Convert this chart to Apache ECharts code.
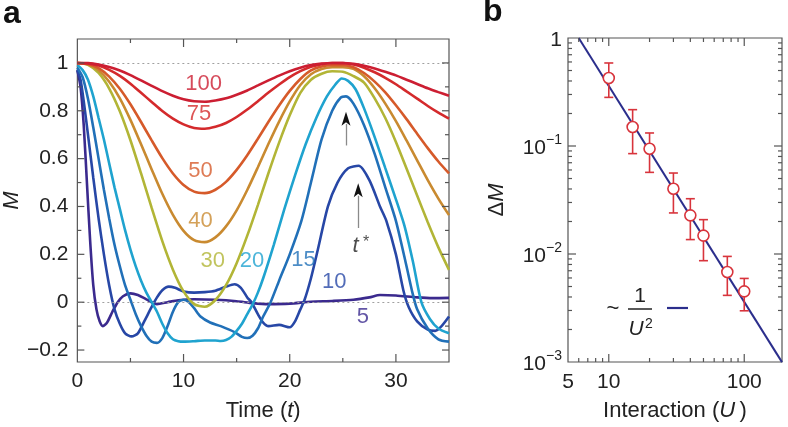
<!DOCTYPE html>
<html><head><meta charset="utf-8">
<script src="https://cdn.jsdelivr.net/npm/echarts@6/dist/echarts.min.js"></script>
<style>html,body{margin:0;padding:0;background:#fff}#c{width:788px;height:427px}</style>
</head><body><div id="c"></div><script>
const FONT = 'Liberation Sans, Arial, Helvetica, sans-serif';
const INK = '#222';
const FRAME = '#555';

// ---------- panel a : magnetization M(t) ----------
const tHigh = [0,1,2,3,4,5,6,7,8,9,10,11,12,13,14,15,16,17,18,19,20,21,22,23,24,25,26,27,28,29,30,31,32,33,34,35];
const m100 = [1.000,0.999,0.993,0.983,0.968,0.949,0.927,0.904,0.882,0.863,0.848,0.840,0.838,0.843,0.852,0.867,0.885,0.906,0.927,0.947,0.965,0.980,0.991,0.997,1.000,1.000,0.996,0.988,0.977,0.963,0.948,0.930,0.912,0.894,0.878,0.863];
const m75 = [1.000,0.998,0.989,0.971,0.946,0.913,0.875,0.837,0.799,0.767,0.743,0.728,0.725,0.733,0.749,0.774,0.805,0.840,0.876,0.910,0.941,0.966,0.984,0.995,1.000,0.999,0.993,0.980,0.961,0.938,0.911,0.881,0.851,0.820,0.792,0.767];
const m50 = [1.000,0.996,0.978,0.943,0.892,0.827,0.753,0.676,0.602,0.538,0.490,0.462,0.456,0.470,0.503,0.553,0.614,0.683,0.754,0.822,0.883,0.933,0.969,0.985,0.990,0.990,0.982,0.958,0.922,0.877,0.823,0.765,0.704,0.644,0.588,0.538];
const m40 = [1.000,0.994,0.969,0.921,0.852,0.762,0.660,0.555,0.453,0.365,0.298,0.259,0.251,0.271,0.317,0.384,0.469,0.564,0.662,0.755,0.839,0.908,0.953,0.975,0.982,0.982,0.975,0.944,0.894,0.830,0.757,0.676,0.593,0.510,0.433,0.364];
const m30 = [1.000,0.992,0.958,0.893,0.798,0.677,0.538,0.394,0.255,0.136,0.045,-0.008,-0.019,0.009,0.071,0.163,0.278,0.406,0.540,0.667,0.781,0.875,0.930,0.955,0.965,0.963,0.945,0.918,0.852,0.770,0.670,0.559,0.446,0.334,0.229,0.135];

const t20 = [0,0.5,1,1.5,2,2.5,3,3.5,4,4.5,5,5.5,6,6.5,7,7.5,8,8.5,9,9.5,10,11,12,13,13.5,14,14.5,15,15.5,16,16.5,17,17.5,18.5,19.5,20.5,21.5,22.5,23.5,24.3,24.9,25.5,26.2,27,28,29,30,30.8,31.6,32.4,33.2,34,35];
const m20 = [0.99,0.97,0.93,0.86,0.77,0.68,0.58,0.48,0.39,0.30,0.22,0.15,0.09,0.04,0.0,-0.04,-0.09,-0.13,-0.155,-0.163,-0.165,-0.163,-0.16,-0.16,-0.162,-0.158,-0.145,-0.12,-0.09,-0.05,-0.01,0.04,0.10,0.24,0.39,0.53,0.66,0.77,0.86,0.91,0.935,0.925,0.89,0.81,0.69,0.56,0.43,0.32,0.17,0.0,-0.07,-0.11,-0.13];

const t15 = [0,0.5,1,1.5,2,2.5,3,3.5,4,4.5,5,5.5,6,6.5,7,7.5,8,8.5,9,9.5,10,10.5,11,11.6,12.5,13.5,14.8,15.5,16,16.5,17,17.5,18.2,19,20,21.1,22,23,24,24.8,25.3,26,27,28,29,30,31,31.5,32,33,34,35];
const m15 = [0.98,0.94,0.85,0.73,0.60,0.47,0.35,0.24,0.15,0.07,0.01,-0.05,-0.10,-0.14,-0.165,-0.17,-0.15,-0.10,-0.04,0.0,0.01,0.0,-0.025,-0.06,-0.085,-0.10,-0.125,-0.145,-0.15,-0.14,-0.11,-0.06,0.0,0.09,0.20,0.34,0.50,0.68,0.80,0.855,0.86,0.83,0.74,0.62,0.48,0.34,0.15,0.05,-0.03,-0.11,-0.155,-0.165];

const t10 = [0,0.3,0.6,1,1.5,2,2.5,3,3.5,4,4.5,5.1,5.7,6.3,7,7.5,8,8.6,9.2,10,11,12,13,14,14.8,15.4,16,16.4,17,17.5,18,19,20,20.5,21,21.4,22,22.65,23.6,24.5,25.5,26.5,27.5,28.5,29.1,30,30.7,31.2,32,33,33.7,34.3,35];
const m10 = [0.97,0.93,0.84,0.70,0.52,0.35,0.20,0.07,-0.03,-0.09,-0.13,-0.143,-0.13,-0.08,-0.02,0.02,0.05,0.065,0.06,0.045,0.04,0.042,0.048,0.065,0.075,0.06,0.02,0.0,-0.05,-0.085,-0.10,-0.095,-0.105,-0.08,-0.03,0.01,0.10,0.22,0.40,0.50,0.56,0.57,0.51,0.40,0.34,0.20,0.05,-0.02,-0.08,-0.115,-0.12,-0.10,-0.06];

const t5 = [0,0.3,0.6,0.9,1.2,1.5,1.8,2.1,2.4,2.8,3.3,3.8,4.3,5,5.7,6.5,7.5,8.5,9.5,11,13,15,16.5,18,20,22,24,26,27.5,28.5,30,32,33.5,35];
const m5 = [0.97,0.90,0.74,0.50,0.26,0.07,-0.03,-0.08,-0.10,-0.085,-0.04,0.0,0.025,0.037,0.03,0.012,-0.008,0.0,0.008,0.012,0.01,0.004,-0.004,-0.008,-0.006,0.002,0.005,0.01,0.02,0.03,0.028,0.02,0.017,0.018];

// revival times t* marked by arrows (curves U = 15 and U = 10)
const tStar = [25.3, 26.45];

// ---------- panel b : revival deficit vs interaction ----------
const bU  = [10, 15, 20, 30, 40, 50, 75, 100];
const bDM = [0.426, 0.150, 0.0944, 0.0402, 0.0228, 0.0148, 0.00681, 0.00451];
const bLo = [0.282, 0.085, 0.057, 0.024, 0.0136, 0.00867, 0.00414, 0.00298];
const bHi = [0.587, 0.217, 0.132, 0.0562, 0.0325, 0.0208, 0.0095, 0.00594];
const fitU  = [6, 190];
const fitDM = [1, 0.000997];

// tick values
const xTicksA = [5,10,15,20,25,30];
const yTicksA = [-0.2,-0.1,0,0.1,0.2,0.3,0.4,0.5,0.6,0.7,0.8,0.9,1.0];
const xTicksB = [6,7,8,9,10,20,30,40,50,60,70,80,90,100];
const yTicksB = [0.002,0.003,0.004,0.005,0.006,0.007,0.008,0.009,0.01,0.02,0.03,0.04,0.05,0.06,0.07,0.08,0.09,0.1,0.2,0.3,0.4,0.5,0.6,0.7,0.8,0.9];

const curves = [
  {name:'5',   t:t5,    m:m5,   color:'#3b2a8e', lab:[26.9,-0.062]},
  {name:'10',  t:t10,   m:m10,  color:'#2747a6', lab:[24.2,0.085]},
  {name:'15',  t:t15,   m:m15,  color:'#2170b8', lab:[21.3,0.176]},
  {name:'20',  t:t20,   m:m20,  color:'#1fa3cf', lab:[16.45,0.172]},
  {name:'30',  t:tHigh, m:m30,  color:'#b2b536', lab:[12.75,0.172]},
  {name:'40',  t:tHigh, m:m40,  color:'#c98a30', lab:[11.6,0.339]},
  {name:'50',  t:tHigh, m:m50,  color:'#d65a2a', lab:[11.6,0.547]},
  {name:'75',  t:tHigh, m:m75,  color:'#d42a2c', lab:[11.45,0.785]},
  {name:'100', t:tHigh, m:m100, color:'#cc1e32', lab:[11.9,0.914]}
];

const RED = '#d8343c';
const NAVY = '#2b2e8c';

function tickLine(p, dx, dy) {
  return {type:'line', shape:{x1:p[0], y1:p[1], x2:p[0]+dx, y2:p[1]+dy}, style:{stroke:FRAME, lineWidth:1.2}};
}

const series = [];

// reference lines M = 1 and M = 0
series.push({
  type:'line', xAxisIndex:0, yAxisIndex:0, data:[], silent:true, z:1,
  markLine:{silent:true, symbol:['none','none'], label:{show:false},
    lineStyle:{color:'#a0a0a0', width:1, type:[2,3]},
    data:[{yAxis:1},{yAxis:0}]}
});

curves.forEach((c, k) => {
  series.push({
    type:'line', name:c.name, xAxisIndex:0, yAxisIndex:0,
    data:c.t.map((t,i)=>[t, c.m[i]]),
    showSymbol:false, smooth:0.25, silent:true, z:2+k,
    lineStyle:{color:c.color, width:2.6}, itemStyle:{color:c.color}
  });
});

// curve labels
series.push({
  type:'scatter', xAxisIndex:0, yAxisIndex:0, symbolSize:0, silent:true, z:20,
  data:curves.map(c=>({value:c.lab, name:c.name,
    label:{show:true, position:'inside', formatter:c.name, color:c.color, fontSize:22, fontFamily:FONT}}))
});

// arrows marking t*
series.push({
  type:'line', xAxisIndex:0, yAxisIndex:0, data:[], silent:true, z:21,
  markLine:{silent:true, symbol:['none','none'], label:{show:false},
    lineStyle:{color:'#8a8a8a', width:1.3, type:'solid'},
    data:[[{coord:[tStar[0],0.655]},{coord:[tStar[0],0.745]}],
          [{coord:[tStar[1],0.31]},{coord:[tStar[1],0.445]}]]}
});
series.push({
  type:'scatter', xAxisIndex:0, yAxisIndex:0, silent:true, z:22,
  symbol:'path://M0,0 L6,16 L0,12 L-6,16 Z', symbolSize:[9,14],
  itemStyle:{color:'#111', opacity:1},
  data:[[tStar[0],0.767],[tStar[1],0.468]]
});
// t* label
series.push({
  type:'scatter', xAxisIndex:0, yAxisIndex:0, symbolSize:0, silent:true, z:22,
  data:[{value:[tStar[1]+0.25,0.235]}],
  label:{show:true, position:'inside', formatter:'{i|t}{s| *}',
    rich:{i:{fontSize:22, fontStyle:'italic', fontFamily:FONT, color:INK},
          s:{fontSize:16, fontFamily:FONT, color:INK, verticalAlign:'top', lineHeight:22}}}
});

// ticks panel a
series.push({
  type:'custom', xAxisIndex:0, yAxisIndex:0, data:[[0,0]], silent:true, z:30, clip:false,
  renderItem:(params, api) => {
    const ch = [];
    xTicksA.forEach(v => {
      const L = (v % 10 === 0) ? 8 : 4;
      ch.push(tickLine(api.coord([v,-0.25]), 0, -L));
      ch.push(tickLine(api.coord([v,1.1]), 0, L));
    });
    yTicksA.forEach(v => {
      const L = (Math.round(v*10) % 2 === 0) ? 7 : 4;
      ch.push(tickLine(api.coord([0,v]), L, 0));
      ch.push(tickLine(api.coord([35,v]), -L, 0));
    });
    return {type:'group', children:ch};
  }
});

// panel b: fit line
series.push({
  type:'line', xAxisIndex:1, yAxisIndex:1, silent:true, z:2,
  data:fitU.map((u,i)=>[u, fitDM[i]]), showSymbol:false,
  lineStyle:{color:NAVY, width:2}, itemStyle:{color:NAVY}
});
// error bars
series.push({
  type:'custom', xAxisIndex:1, yAxisIndex:1, silent:true, z:3,
  data:bU.map((u,i)=>[u, bLo[i], bHi[i]]),
  encode:{x:0, y:[1,2]},
  renderItem:(params, api) => {
    const u = api.value(0);
    const a = api.coord([u, api.value(1)]);
    const b = api.coord([u, api.value(2)]);
    const w = 4.5, st = {stroke:RED, lineWidth:1.6};
    return {type:'group', children:[
      {type:'line', shape:{x1:a[0],y1:a[1],x2:b[0],y2:b[1]}, style:st},
      {type:'line', shape:{x1:a[0]-w,y1:a[1],x2:a[0]+w,y2:a[1]}, style:st},
      {type:'line', shape:{x1:b[0]-w,y1:b[1],x2:b[0]+w,y2:b[1]}, style:st}
    ]};
  }
});
// points
series.push({
  type:'scatter', xAxisIndex:1, yAxisIndex:1, silent:true, z:4,
  data:bU.map((u,i)=>[u, bDM[i]]),
  symbol:'circle', symbolSize:11,
  itemStyle:{color:'#fff', borderColor:RED, borderWidth:1.6, opacity:1}
});
// ticks panel b
series.push({
  type:'custom', xAxisIndex:1, yAxisIndex:1, data:[[10,0.1]], silent:true, z:30, clip:false,
  renderItem:(params, api) => {
    const ch = [];
    xTicksB.forEach(v => {
      const L = (v === 10 || v === 100) ? 8 : 4;
      ch.push(tickLine(api.coord([v,0.001]), 0, -L));
      ch.push(tickLine(api.coord([v,1]), 0, L));
    });
    yTicksB.forEach(v => {
      const e = Math.log10(v);
      const L = Math.abs(e - Math.round(e)) < 1e-6 ? 8 : 4;
      ch.push(tickLine(api.coord([5,v]), L, 0));
      ch.push(tickLine(api.coord([190,v]), -L, 0));
    });
    return {type:'group', children:ch};
  }
});

const labelStyle = {fontSize:21, fontFamily:FONT, color:INK};

const option = {
  animation:false,
  backgroundColor:'#fff',
  grid:[
    {left:77, top:39, width:372, height:323, show:true, borderColor:FRAME, borderWidth:1.2, backgroundColor:'transparent'},
    {left:568, top:38, width:214, height:324, show:true, borderColor:FRAME, borderWidth:1.2, backgroundColor:'transparent'}
  ],
  xAxis:[
    {type:'value', gridIndex:0, min:0, max:35, interval:5,
     axisLine:{show:false}, axisTick:{show:false}, splitLine:{show:false},
     axisLabel:Object.assign({margin:9, formatter:v => (v % 10 === 0 && v < 35) ? String(v) : ''}, labelStyle),
     name:'{n|Time (}{i|t}{n|)}', nameLocation:'middle', nameGap:38,
     nameTextStyle:{fontSize:22, fontFamily:FONT, color:INK,
       rich:{n:{fontSize:22, fontFamily:FONT, color:INK}, i:{fontSize:22, fontFamily:FONT, color:INK, fontStyle:'italic'}}}},
    {type:'log', gridIndex:1, min:5, max:190, logBase:10,
     axisLine:{show:false}, axisTick:{show:false}, splitLine:{show:false}, minorTick:{show:false},
     axisLabel:Object.assign({margin:10, showMinLabel:true, showMaxLabel:true,
       formatter:v => { const r = Math.round(v); return (Math.abs(v-r) < 1e-6 && (r===5||r===10||r===100)) ? String(r) : ''; }}, labelStyle),
     name:'{n|Interaction (}{i|U}{n|\u2009)}', nameLocation:'middle', nameGap:38,
     nameTextStyle:{fontSize:22, fontFamily:FONT, color:INK,
       rich:{n:{fontSize:22, fontFamily:FONT, color:INK}, i:{fontSize:22, fontFamily:FONT, color:INK, fontStyle:'italic'}}}}
  ],
  yAxis:[
    {type:'value', gridIndex:0, min:-0.25, max:1.1, interval:0.05,
     axisLine:{show:false}, axisTick:{show:false}, splitLine:{show:false},
     axisLabel:Object.assign({margin:9, formatter:v => {
        const k = Math.round(v*100);
        if (k % 20 !== 0 || k < -20 || k > 100) return '';
        if (k === 100) return '1';
        if (k === 0) return '0';
        const s = (Math.abs(k)/100).toFixed(1);
        return k < 0 ? '\u2212' + s : s; }}, labelStyle),
     name:'M', nameLocation:'middle', nameRotate:90, nameGap:52,
     nameTextStyle:{fontSize:22, fontFamily:FONT, color:INK, fontStyle:'italic'}},
    {type:'log', gridIndex:1, min:0.001, max:1, logBase:10,
     axisLine:{show:false}, axisTick:{show:false}, splitLine:{show:false}, minorTick:{show:false},
     axisLabel:{margin:6, showMinLabel:true, showMaxLabel:true,
       formatter:v => { const l = Math.log10(v); const e = Math.round(l);
         if (Math.abs(l-e) > 1e-6) return '';
         if (e === 0) return '{b|1}';
         return '{b|10}{s|\u2212' + (-e) + '}'; },
       rich:{b:{fontSize:21, fontFamily:FONT, color:INK, lineHeight:26, verticalAlign:'bottom'},
             s:{fontSize:14, fontFamily:FONT, color:INK, lineHeight:26, verticalAlign:'top'}}},
     name:'{d|\u0394}{m|M}', nameLocation:'middle', nameRotate:90, nameGap:60,
     nameTextStyle:{fontSize:22, fontFamily:FONT, color:INK,
       rich:{d:{fontSize:22, fontFamily:FONT, color:INK}, m:{fontSize:22, fontFamily:FONT, color:INK, fontStyle:'italic'}}}}
  ],
  graphic:[
    {type:'text', left:3, top:-2, style:{text:'a', fontSize:32, fontWeight:'bold', fontFamily:FONT, fill:'#111'}},
    {type:'text', left:483, top:-4, style:{text:'b', fontSize:32, fontWeight:'bold', fontFamily:FONT, fill:'#111'}},
    // 1/U^2 legend
    {type:'text', x:613, y:309, style:{text:'~', fontSize:22, fontFamily:FONT, fill:INK, align:'center', verticalAlign:'middle'}},
    {type:'text', x:640, y:296, style:{text:'1', fontSize:21, fontFamily:FONT, fill:INK, align:'center', verticalAlign:'middle'}},
    {type:'line', shape:{x1:628, y1:309, x2:652, y2:309}, style:{stroke:INK, lineWidth:1.5}},
    {type:'text', x:636, y:329, style:{text:'U', fontSize:21, fontStyle:'italic', fontFamily:FONT, fill:INK, align:'center', verticalAlign:'middle'}},
    {type:'text', x:649, y:324, style:{text:'2', fontSize:14, fontFamily:FONT, fill:INK, align:'center', verticalAlign:'middle'}},
    {type:'line', shape:{x1:667, y1:308, x2:688, y2:308}, style:{stroke:NAVY, lineWidth:2.2}}
  ],
  series:series
};

const chart = echarts.init(document.getElementById('c'), null, {renderer:'canvas', width:788, height:427});
chart.setOption(option);
</script></body></html>
